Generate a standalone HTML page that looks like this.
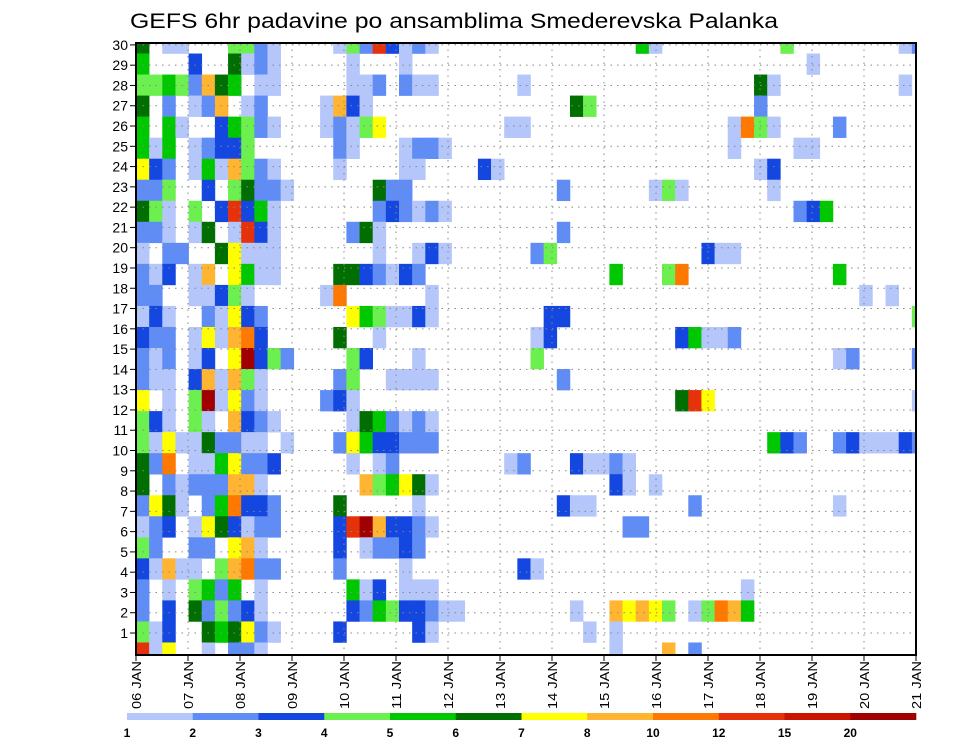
<!DOCTYPE html>
<html><head><meta charset="utf-8"><style>
html,body{margin:0;padding:0;background:#fff;}
svg{display:block;font-family:"Liberation Sans",sans-serif;}
</style></head><body>
<svg id="chart" width="960" height="742" viewBox="0 0 960 742" xmlns="http://www.w3.org/2000/svg">
<rect width="960" height="742" fill="#fff"/>
<text x="130" y="28" font-size="21" textLength="648" lengthAdjust="spacingAndGlyphs" fill="#000">GEFS 6hr padavine po ansamblima Smederevska Palanka</text>
<defs><clipPath id="plotclip"><rect x="136" y="43" width="780" height="612"/></clipPath></defs>
<g id="cells" clip-path="url(#plotclip)"></g>
<g id="grid"></g>
<g id="axes"></g>
<g id="cbar"></g>
</svg>
<script>
// Precipitation codes per member row (band 29 at top down to band 0); each row = 3 parts of 20 six-hour steps from 06 JAN
// code letters: . none, a 1-2, b 2-3, c 3-4, d 4-5, e 5-6, f 6-7, g 7-8, h 8-10, i 10-12, j 12-15, k 15-20, l 20+
const bandCodes = [
["f.aa...ddba....adbjc","aba...............ea",".........d........ab"],
["e...c..faba.....a...","a...................","...........a........"],
["ddedbhfe.aa.....aab.","baa......a..........",".......fa.........a."],
["f.b.abh.ab....ahca..",".............fd.....",".......b............"],
["e.ea..cedba...abadg.","........aa..........",".....aida....b......"],
["eae.abccd......ba...","abba................",".....a....aa........"],
["gcb.aeahdba....a....","aa....ca............",".......ac..........."],
["bbd..c.dfbba......fb","b...........b......a","da......a..........."],
["fda.d.cjcea.......bc","baba................","..........bce......."],
["bba.af.ajca.....bfa.","............b.......","...................."],
["a.bb..fgaaa.......a.",".aca......bd........","...caa.............."],
["bac.ah.geaa....ffcba","cb..............e...","di...........e......"],
["bb..aacda.....ai....","..a.................","...............a.a.."],
["aca..bagcb......geda","aca........cc.......","...................d"],
["cbb.agahic.....f..a.","..........ac........",".ceaab.............."],
["bab.ac.glcdb....dc..",".a........d.........",".............ab....b"],
["baa.chahda.....bd..a","aaa.........b.......","...................."],
["g.a.dlagba....bca...","....................",".fjg...............a"],
["dca.da.hcba.....afeb","aba.................","...................."],
["dagaafbbaa.a...bgecc","bbb.................","........ecb..bcaaacb"],
["fbi.aaegbbc.....a.ab","........ab...caaba..","...................."],
["f.babbbhha.......hde","gfa.............ca.a","...................."],
["bgfa.beiccb....f....",".a..........caa.....","..b..........a......"],
["abc.agfcabb....cjlhc","cba..............bb.","...................."],
["db..bb.gha.....c.abb","cb..................","...................."],
["cahaa.dhibb....b....","a........ca.........","...................."],
["b.a.debe.a......eac.","aaa.................","......a............."],
["b.c.fbdbca......cbed","ccbaa........a..hghg","d.adihe............."],
["dac..fefgba....c....",".ca...........a.a...","...................."],
["jag..a.bba..........","................a...","h.b................."]
];
const codeLetters = ".abcdefghijkl";
const codeValues = [0,1.5,2.5,3.5,4.5,5.5,6.5,7.5,9,11,13.5,17.5,25];
const levelLabels = ["1","2","3","4","5","6","7","8","10","12","15","20"];
const levelBounds = [1,2,3,4,5,6,7,8,10,12,15,20];
const levelColors = ["#b4c6fa","#5f8cf5","#1446e0","#6cf050","#00c800","#006e00","#ffff00","#ffb432","#ff7800","#e6320a","#c81400","#a00000"];
const dayLabels = ["06 JAN","07 JAN","08 JAN","09 JAN","10 JAN","11 JAN","12 JAN","13 JAN","14 JAN","15 JAN","16 JAN","17 JAN","18 JAN","19 JAN","20 JAN","21 JAN"];
const yTickLabels = [1,2,3,4,5,6,7,8,9,10,11,12,13,14,15,16,17,18,19,20,21,22,23,24,25,26,27,28,29,30];
// numeric precipitation grid [band][step]
const precip = bandCodes.map(parts => parts.map(p => p.padEnd(20, ".").slice(0, 20)).join("").split("").map(ch => codeValues[Math.max(0, codeLetters.indexOf(ch))]));
</script>
<script>
const NS = "http://www.w3.org/2000/svg";
const X0 = 136, X1 = 916, Y0 = 43, Y1 = 655;
const colW = 13.15;
const nBands = 30;
const bandH = 610 / 29;
function xCell(i){ return X0 + i * colW; }
function yBand(k){ return 653 - k * bandH; }
function xDay(d){ return X0 + d * 52; }
function yTick(n){ return 653.3 - n * 20.28; }
function colorFor(v){
  if (v < levelBounds[0]) return null;
  let idx = 0;
  for (let j = 0; j < levelBounds.length; j++) if (v >= levelBounds[j]) idx = j;
  return levelColors[idx];
}
function mk(tag, attrs, parent){
  const e = document.createElementNS(NS, tag);
  for (const k in attrs) e.setAttribute(k, attrs[k]);
  parent.appendChild(e);
  return e;
}
const cells = document.getElementById("cells");
precip.forEach((row, r) => {
  const k = nBands - 1 - r;
  row.forEach((v, i) => {
    const c = colorFor(v);
    if (!c) return;
    const el = mk("rect", {x: xCell(i).toFixed(2), y: (yBand(k) - bandH/2).toFixed(2), width: (colW+0.3).toFixed(2), height: (bandH+0.3).toFixed(2), fill: c}, cells);
    
    
  });
});
const grid = document.getElementById("grid");
yTickLabels.forEach(n => {
  const el = mk("line", {x1: X0, x2: X1, y1: yTick(n), y2: yTick(n), stroke: "#888", "stroke-width": 1, "stroke-dasharray": "1.5,5"}, grid);
  
  
});
dayLabels.forEach((lab, d) => {
  if (d === 0 || d === dayLabels.length - 1) return;
  const el = mk("line", {x1: xDay(d), x2: xDay(d), y1: Y0, y2: Y1, stroke: "#888", "stroke-width": 1, "stroke-dasharray": "1.5,5"}, grid);
  
  
});
const axes = document.getElementById("axes");
const frame = mk("rect", {x: X0, y: Y0, width: X1 - X0, height: Y1 - Y0, fill: "none", stroke: "#000", "stroke-width": 2}, axes);


yTickLabels.forEach(n => {
  const t = mk("line", {x1: X0 - 6, x2: X0, y1: yTick(n), y2: yTick(n), stroke: "#000", "stroke-width": 1}, axes);
  
  
  const tx = mk("text", {x: 128, y: yTick(n) + 5, "font-size": 14, "text-anchor": "end", fill: "#000"}, axes);
  tx.textContent = n;
  
  
});
dayLabels.forEach((lab, d) => {
  const x = xDay(d);
  const t = mk("line", {x1: x, x2: x, y1: Y1, y2: Y1 + 6, stroke: "#000", "stroke-width": 1}, axes);
  
  
  const tx = mk("text", {x: 0, y: 0, "font-size": 13, "text-anchor": "end", fill: "#000", textLength: 48, lengthAdjust: "spacingAndGlyphs", transform: "translate(" + (x + 5) + "," + (Y1 + 6) + ") rotate(-90)"}, axes);
  tx.textContent = lab;
  
  
});
const cbar = document.getElementById("cbar");
const cbX0 = 127, cbW = 789 / 12, cbY = 713, cbH = 7;
levelColors.forEach((c, j) => {
  const r = mk("rect", {x: (cbX0 + j * cbW).toFixed(2), y: cbY, width: (cbW + 0.3).toFixed(2), height: cbH, fill: c}, cbar);
  
  
});
levelLabels.forEach((lab, j) => {
  const tx = mk("text", {x: (cbX0 + j * cbW).toFixed(2), y: 737, "font-size": 12, "font-weight": "bold", "text-anchor": "middle", fill: "#000"}, cbar);
  tx.textContent = lab;
  
  
});
</script>
</body></html>
